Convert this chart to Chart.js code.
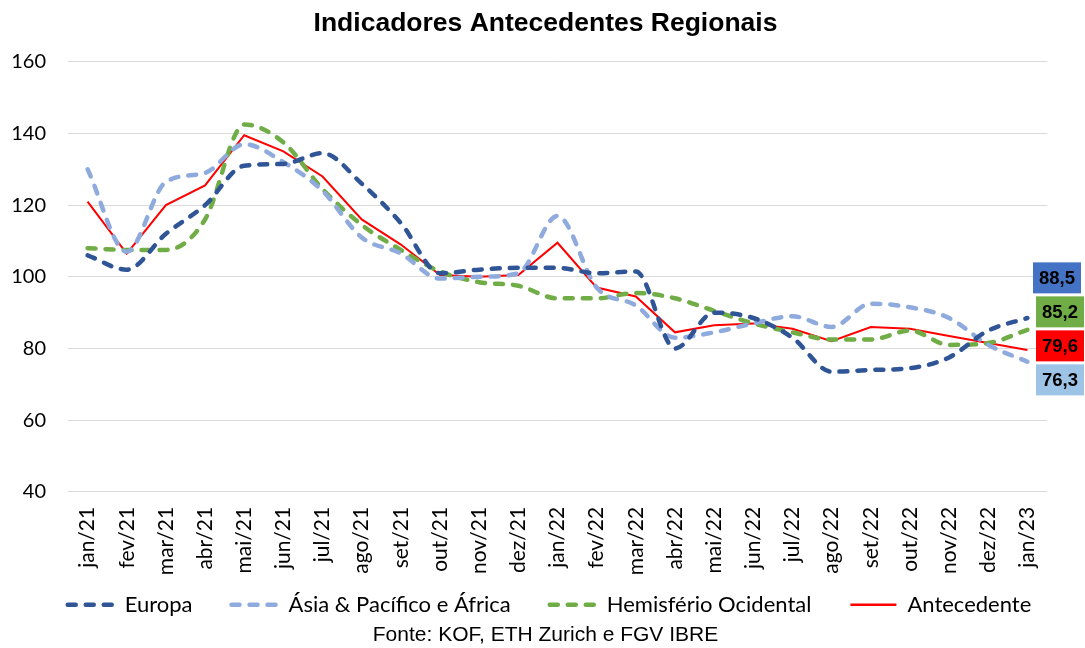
<!DOCTYPE html>
<html><head><meta charset="utf-8">
<script src="https://cdn.jsdelivr.net/npm/chart.js@4"></script>
<style>html,body{margin:0;padding:0;background:#fff}#wrap{width:1085px;height:648px}</style>
</head><body><div id="wrap"><canvas id="c" width="1085" height="648"></canvas></div>
<script>
const categories = ['jan/21','fev/21','mar/21','abr/21','mai/21','jun/21','jul/21','ago/21','set/21','out/21','nov/21','dez/21','jan/22','fev/22','mar/22','abr/22','mai/22','jun/22','jul/22','ago/22','set/22','out/22','nov/22','dez/22','jan/23'];
const europa = [106,102,112,120,131,131.5,134.5,126,115,101,102,102.5,102.5,101,101.5,80,90,88.5,83,73.5,74,74.5,77.5,85,88.5];
const asia = [130,107,126.5,129,137,132,124,111,106.5,99.5,100,101,117,97,92,83,84.5,87,89,86,92.5,91.5,88.5,81,76.3];
const hemisferio = [108,107.5,107.5,116,142.5,137.5,124.5,114.5,107.5,101.5,98.5,97.5,94,94,95.5,94,90.5,87,84.5,82.5,82.5,85,81,81.5,85.2];
const antecedente = [121,106.5,120,125.5,139.5,135,128,116,109,100.5,100,100.5,109.5,97,94.5,84.5,86.5,87,85.5,82,86,85.5,83.5,81.5,79.6];
const lastLabels = ['88,5','76,3','85,2','79,6'];
const yTicks = [40,60,80,100,120,140,160];

const labelBoxes = {
  id:'labelBoxes',
  afterDatasetsDraw(chart){
    const ctx = chart.ctx;
    const fills = ['#4472C4','#9DC3E6','#70AD47','#FF0000'];
    const items = chart.data.datasets.map((ds,i)=>{
      const m = chart.getDatasetMeta(i);
      const p = m.data[m.data.length-1];
      return {i, v: ds.data[ds.data.length-1], x:p.x, y:p.y, text:lastLabels[i], fill:fills[i]};
    }).sort((a,b)=>b.v-a.v);
    const meanY = items.reduce((s,it)=>s+it.y,0)/items.length - 11;
    const step = 34;
    ctx.save();
    ctx.font = 'bold 18.5px "Liberation Sans", Arial, sans-serif';
    ctx.textAlign = 'center';
    ctx.textBaseline = 'middle';
    items.forEach((it,k)=>{
      const cy = meanY + (k-1.5)*step;
      const w = ctx.measureText(it.text).width + 12;
      const right = chart.width - 1 - (k===0 ? 3 : 0);
      const h = 31;
      ctx.fillStyle = it.fill;
      ctx.fillRect(right-w, cy-h/2, w, h);
      ctx.fillStyle = '#000';
      ctx.fillText(it.text, right-w/2, cy+1);
    });
    ctx.restore();
  }
};

// layout nudges: legend keeps wide horizontal spacing with tighter vertical spacing;
// title / source / legend centred like the original
const layoutNudge = {
  id:'layoutNudge',
  afterLayout(chart){
    const lg = chart.legend;
    chart.boxes.forEach(b=>{
      if (b === lg) {
        const dy = lg.options.labels.padding - 16;
        lg.top -= dy;
        lg.left += 7; lg.right += 7;
      } else if (b.options && b.options.text !== undefined && b.options.display) {
        b.left += 3; b.right += 3;
      }
    });
  }
};

const dashed = {borderWidth:4.5, borderDash:[8,10], borderCapStyle:'round', pointRadius:0, cubicInterpolationMode:'monotone'};

new Chart(document.getElementById('c'), {
  type:'line',
  data:{
    labels: categories,
    datasets:[
      Object.assign({label:'Europa', data:europa, borderColor:'#2F5597', backgroundColor:'#2F5597'}, dashed),
      Object.assign({label:'Ásia & Pacífico e África', data:asia, borderColor:'#8FAADC', backgroundColor:'#8FAADC'}, dashed),
      Object.assign({label:'Hemisfério Ocidental', data:hemisferio, borderColor:'#70AD47', backgroundColor:'#70AD47'}, dashed),
      {label:'Antecedente', data:antecedente, borderColor:'#FF0000', backgroundColor:'#FF0000', borderWidth:2, pointRadius:0, tension:0}
    ]
  },
  options:{
    responsive:false, animation:false, devicePixelRatio:1,
    layout:{padding:{left:0, right:0, top:0, bottom:0}},
    scales:{
      x:{
        offset:true,
        grid:{display:false, drawTicks:false},
        border:{display:false},
        afterFit(s){ s.height = 86; },
        ticks:{maxRotation:90, minRotation:90, autoSkip:false, color:'#000', padding:15, font:{family:'Lato, "Open Sans", sans-serif', size:21}}
      },
      y:{
        min:40, max:160,
        afterBuildTicks(ax){ ax.ticks = yTicks.map(v=>({value:v})); },
        afterFit(s){ s.width = 68; },
        grid:{color:'#D9D9D9', lineWidth:1, drawTicks:false},
        border:{display:false},
        ticks:{color:'#000', padding:22, font:{family:'Lato, "Open Sans", sans-serif', size:20}}
      },
      yRight:{
        type:'linear', position:'right', display:true,
        grid:{display:false, drawTicks:false},
        border:{display:false},
        ticks:{display:false},
        afterFit(s){ s.width = 38; }
      }
    },
    plugins:{
      title:{display:true, text:'Indicadores Antecedentes Regionais', color:'#000', font:{family:'"Liberation Sans", Arial, sans-serif', size:26.5, weight:'bold'}, padding:{top:8, bottom:22}},
      subtitle:{display:true, position:'bottom', text:'Fonte: KOF, ETH Zurich e FGV IBRE', color:'#000', font:{family:'"Liberation Sans", Arial, sans-serif', size:21}, padding:{top:0, bottom:0}},
      legend:{position:'bottom', maxHeight:45,
        labels:{usePointStyle:true, pointStyle:'line', pointStyleWidth:46, boxWidth:46, boxHeight:10, color:'#000', padding:39,
          font:{family:'Lato, "Open Sans", sans-serif', size:22},
          generateLabels(chart){
            const items = Chart.defaults.plugins.legend.labels.generateLabels(chart);
            items.forEach(it=>{
              const ds = chart.data.datasets[it.datasetIndex];
              it.lineDash = ds.borderDash || [];
              it.lineCap = ds.borderDash ? 'round' : 'butt';
              it.lineWidth = ds.borderDash ? 4.5 : 2.5;
              it.strokeStyle = ds.borderColor;
              it.fillStyle = ds.borderColor;
              it.pointStyle = 'line';
            });
            return items;
          }
        }
      },
      tooltip:{enabled:false}
    }
  },
  plugins:[labelBoxes, layoutNudge]
});
</script></body></html>
